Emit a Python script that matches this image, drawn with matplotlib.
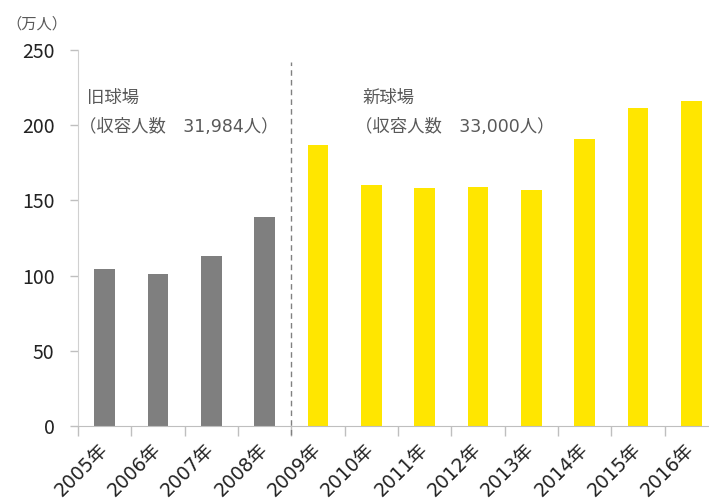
import matplotlib
matplotlib.use("Agg")
import matplotlib.pyplot as plt
import numpy as np

plt.rcParams['font.family'] = ['Noto Sans CJK JP', 'DejaVu Sans']
mixed = ['DejaVu Sans', 'Noto Sans CJK JP']

years = ['2005年', '2006年', '2007年', '2008年', '2009年', '2010年',
         '2011年', '2012年', '2013年', '2014年', '2015年', '2016年']
attendance = [104.6, 100.9, 113.0, 139.2, 187.0, 160.0,
              158.5, 158.9, 156.7, 190.6, 211.2, 216.1]
old_count = 4  # first four seasons at the old stadium
y_ticks = [0, 50, 100, 150, 200, 250]
old_label = ['旧球場', '（収容人数　31,984人）']
new_label = ['新球場', '（収容人数　33,000人）']
unit_label = '（万人）'

gray = '#7f7f7f'
yellow = '#FFE600'
txt = '#595959'

fig = plt.figure(figsize=(7.09, 5.03), dpi=100)
ax = fig.add_axes([78/709, 1 - 426/503, 640/709, 376/503])

x = np.arange(len(years))
colors = [gray if i < old_count else yellow for i in range(len(years))]
ax.bar(x, attendance, width=0.39, color=colors, zorder=2)

ax.set_xlim(-0.5, len(years) - 0.5)
ax.set_ylim(0, 250)
ax.set_yticks(y_ticks)
ax.set_yticklabels([str(v) for v in y_ticks], fontsize=14, color='#222222')

# x ticks at category boundaries, labels at centres
ax.set_xticks(np.arange(-0.5, len(years) + 0.5, 1.0))
ax.set_xticklabels([])
ax.set_xticks(x, minor=True)
ax.set_xticklabels(years, minor=True, rotation=45, ha='right', va='center',
                   rotation_mode='anchor', fontsize=13.5, color='#222222',
                   family=mixed)
ax.tick_params(axis='x', which='major', length=7, width=1, color='#bfbfbf', direction='out')
ax.tick_params(axis='x', which='minor', length=0, pad=15)
ax.tick_params(axis='y', length=6, width=1, color='#bfbfbf', direction='out', pad=11)

for s in ['top', 'right']:
    ax.spines[s].set_visible(False)
ax.spines['left'].set_color('#d0d0d0')
ax.spines['bottom'].set_color('#bfbfbf')

# dashed divider between old and new stadium
ax.plot([old_count - 0.5, old_count - 0.5], [-6, 242], linestyle=(0, (4, 3)),
        color='#808080', linewidth=1, clip_on=False, zorder=3)

ax.text(-0.33, 218, old_label[0], fontsize=12.5, color=txt, va='center', ha='left')
ax.text(-0.48, 199, old_label[1], fontsize=12.5, color=txt, va='center', ha='left',
        family=mixed)
ax.text(4.83, 218, new_label[0], fontsize=12.5, color=txt, va='center', ha='left')
ax.text(4.70, 199, new_label[1], fontsize=12.5, color=txt, va='center', ha='left',
        family=mixed)

fig.text(6/709, 1 - 24/503, unit_label, fontsize=11, color=txt, va='center', ha='left')

fig.savefig('out.png', dpi=100)
